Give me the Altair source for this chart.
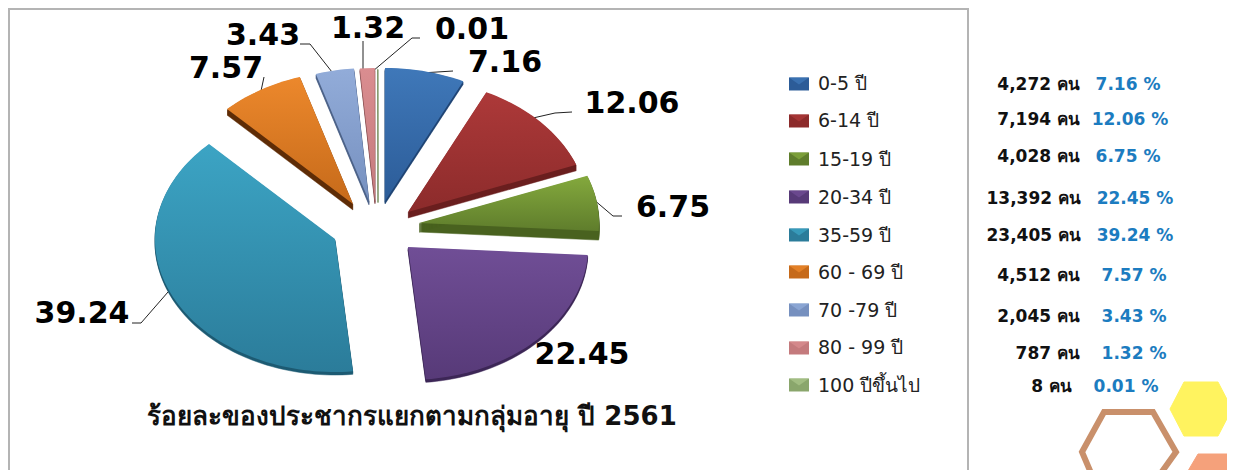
import numpy as np
import pandas as pd
import altair as alt

# ---- data ----
ages = ["0-5 ปี", "6-14 ปี", "15-19 ปี", "20-34 ปี", "35-59 ปี", "60 - 69 ปี", "70 -79 ปี", "80 - 99 ปี", "100 ปีขึ้นไป"]
percent = [7.16, 12.06, 6.75, 22.45, 39.24, 7.57, 3.43, 1.32, 0.01]
people = ["4,272 คน", "7,194 คน", "4,028 คน", "13,392 คน", "23,405 คน", "4,512 คน", "2,045 คน", "787 คน", "8 คน"]
pct_text = ["7.16 %", "12.06 %", "6.75 %", "22.45 %", "39.24 %", "7.57 %", "3.43 %", "1.32 %", "0.01 %"]
title = "ร้อยละของประชากรแยกตามกลุ่มอายุ ปี 2561"

# ---- styling / layout ----
light = ["#3f78b9", "#ad3939", "#84a93d", "#704e96", "#3ca4c4", "#ec882c", "#92acd9", "#da8d90", "#a9c48a"]
dark = ["#2c5c98", "#8c2b2b", "#5f7d2c", "#573a78", "#2b7c9a", "#c66a1a", "#7690bf", "#c47a7d", "#8aa66c"]
side = ["#1f4474", "#6a1e1e", "#49621f", "#3c2656", "#1c5a72", "#5e2c06", "#4c6288", "#8a5052", "#6a8450"]
centre_x, centre_y = 378, 222
apex_dx = [7, 30, 41, 30, -43, -25, -9, -3, 0]
apex_dy = [-21, -10, 1, 25, 17, -18, -21, -21, -21]
depth = [3, 6, 9, 3, 3, 6, 4, 3, 2]
radius_x, radius_y = 180, 133
legend_y = [84, 121, 159, 197, 235, 272, 310, 348, 385]
legend_text_y = [84, 121, 160, 198, 236, 273, 311, 348, 386]
count_y = [85, 120, 157, 199, 236, 276, 317, 354, 387]
count_right = [1080, 1080, 1080, 1081, 1081, 1080, 1080, 1080, 1072]
pct_x = [1128, 1130, 1128, 1135, 1135, 1134, 1134, 1134, 1126]

X = lambda f="x": alt.X(f"{f}:Q", scale=alt.Scale(domain=[8, 1227], zero=False, nice=False), axis=None)
Y = lambda f="y": alt.Y(f"{f}:Q", scale=alt.Scale(domain=[470, 8], zero=False, nice=False), axis=None)


def sector(i):
    edges = np.cumsum([0.0] + percent) / 100 * 2 * np.pi
    n = max(2, int((edges[i + 1] - edges[i]) / 0.03))
    t = np.linspace(edges[i], edges[i + 1], n)
    ax, ay = centre_x + apex_dx[i], centre_y + apex_dy[i]
    xs = np.r_[ax, ax + radius_x * np.sin(t)]
    ys = np.r_[ay, ay - radius_y * np.cos(t)]
    return pd.DataFrame({"x": xs, "y": ys, "i": np.arange(len(xs))})


def grad(c1, c2):
    return alt.Gradient(gradient="linear", x1=0, y1=0, x2=0, y2=1,
                        stops=[alt.GradientStop(offset=0, color=c1), alt.GradientStop(offset=1, color=c2)])


layers = []

# hexagon decoration
hexes = pd.DataFrame({"x": [1170, 1184, 1218, 1232, 1218, 1184], "y": [409, 382, 382, 409, 436, 436], "i": range(6)})
layers.append(alt.Chart(hexes).mark_line(interpolate="linear-closed", fill="#fff35f", stroke="#fff35f", strokeWidth=1)
              .encode(x=X(), y=Y(), order="i:Q"))
hex2 = pd.DataFrame({"x": [1185, 1198, 1240, 1240], "y": [476, 454, 454, 476], "i": range(4)})
layers.append(alt.Chart(hex2).mark_line(interpolate="linear-closed", fill="#f5a17b", stroke="#f5a17b", strokeWidth=1)
              .encode(x=X(), y=Y(), order="i:Q"))
hex3 = pd.DataFrame({"x": [1094, 1082, 1104, 1153, 1176, 1156], "y": [480, 452, 412, 412, 452, 480], "i": range(6)})
layers.append(alt.Chart(hex3).mark_line(stroke="#c9906b", strokeWidth=6, strokeJoin="miter").encode(x=X(), y=Y(), order="i:Q"))

# frame
frame = pd.DataFrame({"x": [9, 9, 968, 968], "y": [480, 9, 9, 480], "i": range(4)})
layers.append(alt.Chart(frame).mark_line(stroke="#b4b4b4", strokeWidth=2).encode(x=X(), y=Y(), order="i:Q"))

# leader lines
lead = pd.DataFrame(
    [(k, j, x, y) for k, pts in enumerate([
        [(300, 44), (310, 44), (332, 72)],
        [(363, 41), (363, 71)],
        [(420, 38), (412, 38), (373, 71)],
        [(453, 71), (421, 73)],
        [(572, 112), (555, 113), (533, 118)],
        [(622, 216), (613, 216), (593, 199)],
        [(264, 77), (261, 91)],
        [(132, 323), (141, 323), (168, 292)],
    ]) for j, (x, y) in enumerate(pts)], columns=["k", "i", "x", "y"])
layers.append(alt.Chart(lead).mark_line(stroke="#222222", strokeWidth=1).encode(x=X(), y=Y(), detail="k:N", order="i:Q"))

# slices and legend swatches
for i in range(len(percent)):
    sd = pd.concat([sector(i).assign(y=lambda d, s=s: d.y + s, copy=s) for s in np.arange(1, depth[i] + 1)])
    layers.append(alt.Chart(sd).mark_line(interpolate="linear-closed", fill=side[i], stroke=side[i], strokeWidth=0.5)
                  .encode(x=X(), y=Y(), detail="copy:Q", order="i:Q"))
    layers.append(alt.Chart(sector(i)).mark_line(interpolate="linear-closed", fill=grad(light[i], dark[i]), strokeWidth=0)
                  .encode(x=X(), y=Y(), order="i:Q"))
    sw = pd.DataFrame({"x": [789], "x2": [809], "y": [legend_y[i] - 6.5], "y2": [legend_y[i] + 6.5]})
    layers.append(alt.Chart(sw).mark_rect(fill=grad(dark[i], dark[i])).encode(x=X(), x2="x2:Q", y=Y(), y2="y2:Q"))
    tri = pd.DataFrame({"x": [789, 809, 799], "y": [legend_y[i] - 6.5, legend_y[i] - 6.5, legend_y[i] + 0.5], "i": [0, 1, 2]})
    layers.append(alt.Chart(tri).mark_line(interpolate="linear-closed", fill=light[i], opacity=0.75, strokeWidth=0)
                  .encode(x=X(), y=Y(), order="i:Q"))

FONT = "DejaVu Sans"
label_x = [505, 632, 673, 582, 82, 226, 263, 368, 472]
label_y = [63, 104, 208, 355, 314, 69, 36, 29, 30]
labels = pd.DataFrame({"x": label_x, "y": label_y, "t": [f"{p:.2f}" for p in percent]})
layers.append(alt.Chart(labels).mark_text(font=FONT, fontWeight="bold", fontSize=30, color="#000000", align="center", baseline="middle")
              .encode(x=X(), y=Y(), text="t:N"))

tit = pd.DataFrame({"x": [412], "y": [417], "t": [title]})
layers.append(alt.Chart(tit).mark_text(font=FONT, fontWeight="bold", fontSize=26, color="#111111", align="center", baseline="middle")
              .encode(x=X(), y=Y(), text="t:N"))

leg = pd.DataFrame({"x": [818] * 9, "y": legend_text_y, "t": ages})
layers.append(alt.Chart(leg).mark_text(font=FONT, fontSize=19, color="#222222", align="left", baseline="middle")
              .encode(x=X(), y=Y(), text="t:N"))

cnt = pd.DataFrame({"x": count_right, "y": count_y, "t": people})
layers.append(alt.Chart(cnt).mark_text(font=FONT, fontWeight="bold", fontSize=17, color="#111111", align="right", baseline="middle")
              .encode(x=X(), y=Y(), text="t:N"))

pc = pd.DataFrame({"x": pct_x, "y": count_y, "t": pct_text})
layers.append(alt.Chart(pc).mark_text(font=FONT, fontWeight="bold", fontSize=17, color="#1c7cc0", align="center", baseline="middle")
              .encode(x=X(), y=Y(), text="t:N"))

chart = (alt.layer(*layers)
         .properties(width=1219, height=462, padding=0, background="#ffffff",
                     autosize=alt.AutoSizeParams(type="none"))
         .configure_view(stroke=None))

chart.save("out.html", embed_options={"renderer": "svg", "actions": False})
